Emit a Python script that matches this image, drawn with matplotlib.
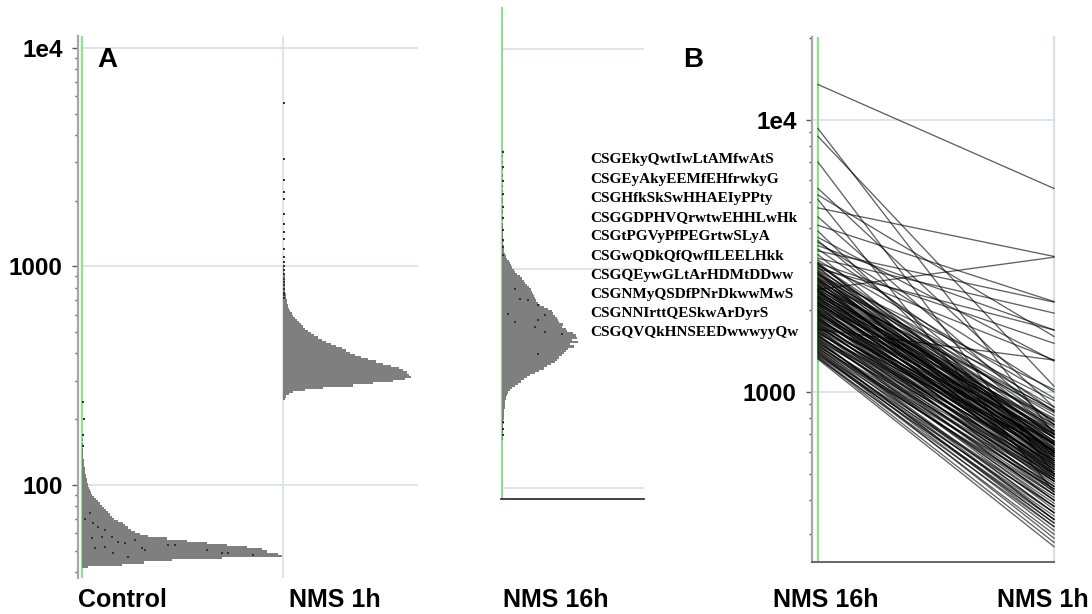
import numpy as np
import matplotlib
matplotlib.use("Agg")
import matplotlib.pyplot as plt
from matplotlib.ticker import LogLocator, NullFormatter

plt.rcParams['font.family'] = ['Liberation Sans', 'DejaVu Sans']

# histogram bins are log10 steps of 0.01 starting at the given exponent
ctrl_start = 1.62
ctrl_counts = [6, 40, 62, 90, 140, 200, 196, 185, 180, 165, 145, 125, 105, 85, 66,
               58, 53, 49, 46, 43, 41, 36, 32, 30, 28, 26, 24, 22, 20, 18, 16, 14,
               12, 10, 9, 8, 7, 6, 6, 5, 5, 4, 4, 3, 3, 3, 2, 2, 2, 2, 1, 1, 1, 1,
               1, 0, 1, 0, 1]

nms1_start = 2.39
nms1_counts = [2, 3, 6, 10, 22, 40, 70, 90, 110, 122, 128, 126, 124, 120, 116, 108,
               100, 93, 85, 78, 72, 67, 63, 59, 53, 48, 43, 39, 35, 31, 28, 25, 22,
               20, 18, 16, 14, 12, 10, 9, 7, 6, 5, 5, 4, 4, 3, 3, 3, 2, 2, 2, 2, 2,
               2, 2, 2, 2, 1, 1, 1]

nms16_start = 2.22
nms16_counts = [1, 0, 1, 1, 1, 1, 1, 2, 1, 2, 2, 2, 2, 2, 3, 3, 3, 3, 4, 4, 5, 6, 8,
                10, 13, 16, 19, 22, 25, 28, 33, 37, 42, 45, 49, 53, 55, 57, 60, 62,
                64, 66, 72, 68, 76, 70, 75, 74, 71, 65, 64, 60, 61, 57, 56, 55, 53,
                51, 50, 46, 42, 38, 36, 34, 33, 32, 31, 30, 29, 27, 25, 23, 22, 20,
                18, 15, 13, 12, 10, 9, 8, 7, 5, 4, 3, 2, 2, 2, 2, 1, 2, 1, 1, 1, 1,
                1, 1, 1, 1, 0, 1, 1, 0, 1, 1, 0, 1, 0, 1, 1, 0, 1, 0, 1, 0, 1, 0, 0,
                1, 0, 1, 0, 0, 1, 0, 0, 1, 0, 0, 1, 0, 1]

# single peptides drawn as dots (count position, signal)
ctrl_dot_x = [8, 11, 16, 23, 30, 10, 20, 36, 43, 53, 60, 13, 31, 46, 63, 86, 93, 125,
              140, 146, 171, 23, 3, 1, 1, 2, 1]
ctrl_dot_y = [74.5, 67, 64.3, 62.2, 57.8, 57.1, 57.8, 54.8, 54.2, 56, 51.5, 51.5,
              48.9, 46.8, 50.5, 53.1, 53.1, 50.5, 48.9, 48.9, 47.8, 52, 70, 150,
              170, 200, 240]
nms1_dot_y = [5630, 3120, 2500, 2200, 2030, 1730, 1560, 1445, 1330, 1200, 1100,
              1050, 1000, 960, 920, 880, 850, 820, 790, 760, 740, 720]
nms16_dot_x = [13, 18, 26, 36, 6, 43, 36, 13, 33, 43, 36, 60, 1, 1, 1, 1, 1, 1, 1,
               1, 1, 1, 1, 1, 1]
nms16_dot_y = [810, 730, 716, 684, 622, 617, 585, 571, 543, 514, 408, 502, 3400,
               2900, 2500, 2200, 1900, 1700, 1500, 1350, 1250, 1150, 200, 185, 175]

peptides = ["CSGEkyQwtIwLtAMfwAtS", "CSGEyAkyEEMfEHfrwkyG", "CSGHfkSkSwHHAEIyPPty",
            "CSGGDPHVQrwtwEHHLwHk", "CSGtPGVyPfPEGrtwSLyA", "CSGwQDkQfQwfILEELHkk",
            "CSGQEywGLtArHDMtDDww", "CSGNMyQSDfPNrDkwwMwS", "CSGNNIrttQESkwArDyrS",
            "CSGQVQkHNSEEDwwwyyQw"]

# paired signals of the same peptide at 16h and 1h
sig_16h = [13500, 9300, 8700, 7000, 5600, 5300, 5100, 4750, 4400, 4100, 3900, 3700,
           2380, 3550, 3100, 3200, 3300, 3350, 3450, 3600, 1700,
           1320, 1350, 1380, 1400, 1420, 1440, 1460, 1480, 1500, 1510, 1530, 1550,
           1560, 1580, 1600, 1610, 1630, 1650, 1660, 1680, 1700, 1710, 1730, 1750,
           1760, 1780, 1800, 1810, 1830, 1850, 1860, 1880, 1900, 1910, 1930, 1950,
           1960, 1980, 2000, 2010, 2030, 2050, 2060, 2080, 2100, 2120, 2130, 2150,
           2170, 2190, 2200, 2220, 2240, 2260, 2280, 2300, 2320, 2340, 2360, 2380,
           2400, 2420, 2450, 2470, 2500, 2520, 2550, 2580, 2600, 2630, 2660, 2700,
           2730, 2760, 2800, 2850, 2900, 2950, 3000, 3050,
           1330, 1370, 1410, 1450, 1490, 1520, 1570, 1620, 1640, 1690, 1720, 1770,
           1790, 1820, 1870, 1890, 1920, 1940, 1990, 2020, 2070, 2090, 2110, 2160,
           2210, 2250, 2290, 2330, 2370, 2410, 2440, 2490, 2540, 2570, 2620, 2680,
           2720, 2790, 2840, 2880, 2930, 2980,
           1340, 1360, 1390, 1430, 1470, 1540, 1590, 1670, 1740, 1840, 1970, 2140,
           2230, 2350, 2460, 2610, 2750, 2960]
sig_1h = [5600, 700, 1050, 500, 880, 1600, 430, 3150, 760, 2150, 580, 1300,
          3130, 1000, 1950, 620, 2140, 850, 1690, 720, 1310,
          270, 300, 330, 290, 350, 380, 320, 410, 360, 440, 390, 470,
          340, 420, 500, 450, 380, 520, 480, 430, 550, 400, 510, 460,
          580, 530, 490, 610, 440, 560, 520, 470, 600, 540, 650, 500,
          570, 620, 480, 590, 540, 680, 510, 630, 560, 720, 600, 530,
          660, 590, 760, 620, 550, 700, 640, 800, 580, 680, 610, 740,
          650, 860, 700, 600, 780, 660, 930, 720, 640, 820, 700, 1020,
          760, 600, 880, 680, 1310, 780, 560, 950,
          320, 360, 310, 420, 340, 400, 450, 370, 560, 470, 610, 420,
          500, 650, 540, 430, 700, 580, 520, 640, 470, 750, 610, 680,
          500, 790, 560, 710, 520, 600, 840, 550, 690, 490, 600, 850,
          540, 640, 1690, 600, 720, 1510,
          280, 340, 380, 330, 440, 360, 480, 400, 490, 590, 450, 530,
          650, 480, 570, 660, 500, 680]

W, H = 1092, 614
GRID = '#d6e2e5'
GREEN = '#8ee08e'
GREY = '#7f7f7f'


def box(l, t, r, b):
    return [l / W, 1 - b / H, (r - l) / W, (b - t) / H]


def edges(start, counts):
    return 10 ** (start + 0.01 * np.arange(len(counts) + 1))


def draw_hist(ax, start, counts, left):
    e = edges(start, counts)
    ax.barh(e[:-1], counts, height=np.diff(e), left=left, align='edge',
            color=GREY, linewidth=0, zorder=2)


def style_logaxis(ax, ticks, labels):
    ax.set_yscale('log')
    ax.set_yticks(ticks)
    ax.set_yticklabels(labels, fontsize=17.5, fontweight='bold')
    ax.yaxis.set_minor_locator(LogLocator(base=10, subs=np.arange(2, 10)))
    ax.yaxis.set_minor_formatter(NullFormatter())
    ax.tick_params(axis='y', which='major', length=4, width=1, color='#555555', pad=7)
    ax.tick_params(axis='y', which='minor', length=2.5, width=1, color='#555555')
    ax.set_xticks([])
    for s in ['top', 'right', 'bottom']:
        ax.spines[s].set_visible(False)
    ax.spines['left'].set_color('#a8a8a8')
    ax.spines['left'].set_linewidth(1.6)


fig = plt.figure(figsize=(W / 100, H / 100), dpi=100)

# panel A: control and NMS 1h
axA = fig.add_axes(box(78, 36, 420, 578))
axA.set_xlim(0, 342)
axA.set_ylim(10 ** 1.574, 10 ** 4.055)
style_logaxis(axA, [100, 1000, 10000], ['100', '1000', '1e4'])
for v in [100, 1000, 10000]:
    axA.axhline(v, xmin=4 / 342, xmax=339 / 342, color=GRID, lw=1.2, zorder=1)
axA.axvline(205, color=GRID, lw=1.2, zorder=1)
axA.axvline(4, color=GREEN, lw=1.6, zorder=1)
draw_hist(axA, ctrl_start, ctrl_counts, 4)
draw_hist(axA, nms1_start, nms1_counts, 205)
axA.scatter(np.array(ctrl_dot_x) + 4, ctrl_dot_y, s=1.5, marker='s', color='#333333',
            lw=0, zorder=3)
axA.scatter(np.full(len(nms1_dot_y), 206), nms1_dot_y, s=1.5, marker='s',
            color='#333333', lw=0, zorder=3)

# NMS 16h column
ax16 = fig.add_axes(box(501, 7, 644, 499))
ax16.set_xlim(-1, 142)
ax16.set_ylim(10 ** 1.9495, 10 ** 4.193)
ax16.set_yscale('log')
ax16.set_xticks([])
ax16.set_yticks([])
ax16.minorticks_off()
for s in ['top', 'right', 'left']:
    ax16.spines[s].set_visible(False)
ax16.spines['bottom'].set_color('#222222')
ax16.spines['bottom'].set_linewidth(1.2)
for v in [100, 1000, 10000]:
    ax16.axhline(v, color=GRID, lw=1.2, zorder=1)
ax16.axvline(0, color=GREEN, lw=1.6, zorder=1)
draw_hist(ax16, nms16_start, nms16_counts, 0)
ax16.scatter(nms16_dot_x, nms16_dot_y, s=1.5, marker='s', color='#333333', lw=0,
             zorder=3)

# panel B: per-peptide change from 16h to 1h
axB = fig.add_axes(box(812, 37, 1054, 562))
axB.set_xlim(-0.0254, 1.0)
axB.set_ylim(10 ** 2.375, 10 ** 4.305)
style_logaxis(axB, [1000, 10000], ['1000', '1e4'])
axB.spines['bottom'].set_visible(True)
axB.spines['bottom'].set_color('#666666')
axB.spines['bottom'].set_linewidth(1.4)
for v in [1000, 10000]:
    axB.axhline(v, color=GRID, lw=1.2, zorder=1)
axB.axvline(1.0, color=GRID, lw=1.6, zorder=1, clip_on=False)
axB.axvline(0, color=GREEN, lw=1.6, zorder=1)
for a, b in zip(sig_16h, sig_1h):
    axB.plot([0, 1], [a, b], color='black', lw=0.95, alpha=0.62, zorder=2,
             clip_on=False)

# labels
fig.text(97 / W, 1 - 60 / H, 'A', fontsize=20, fontweight='bold', va='center')
fig.text(683 / W, 1 - 60 / H, 'B', fontsize=20, fontweight='bold', va='center')
for x, t in [(78, 'Control'), (289, 'NMS 1h'), (503, 'NMS 16h'),
             (773, 'NMS 16h'), (997, 'NMS 1h')]:
    fig.text(x / W, 1 - 607 / H, t, fontsize=18, fontweight='bold',
             va='baseline', ha='left')
for i, p in enumerate(peptides):
    fig.text(590 / W, 1 - (160 + 19.2 * i) / H, p, fontsize=11, fontweight='bold',
             family=['Liberation Serif', 'DejaVu Serif'], va='center', ha='left')

fig.savefig('out.png', dpi=100)
